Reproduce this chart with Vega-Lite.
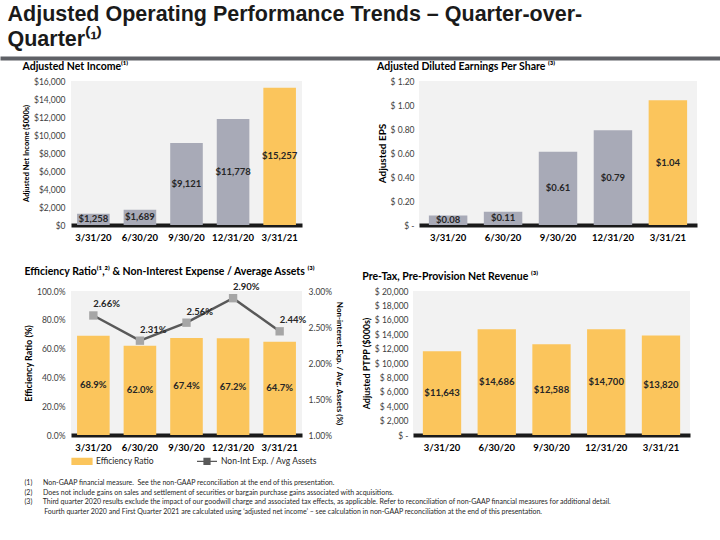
{
  "$schema": "https://vega.github.io/schema/vega-lite/v6.json",
  "background": "white",
  "padding": {"left": 0, "right": 0, "top": 4, "bottom": 0},
  "title": {
    "text": ["Adjusted Operating Performance Trends – Quarter-over-", "Quarter⁽¹⁾"],
    "anchor": "start",
    "font": "Liberation Sans",
    "fontSize": 21.5,
    "fontWeight": "bold",
    "color": "#1a1a1a",
    "lineHeight": 25,
    "offset": 6,
    "dx": 7
  },
  "config": {
    "view": {"stroke": null, "fill": "#f2f2f2"},
    "title": {"anchor": "start", "font": "Lato", "fontSize": 10.5, "fontWeight": "bold", "color": "#000000", "offset": 5},
    "axis": {"ticks": false, "domain": false, "grid": false, "labelFont": "Lato", "titleFont": "Lato", "labelColor": "#404040", "labelFontSize": 8.5, "titleFontWeight": "bold", "titleColor": "#000000", "titleFontSize": 8, "titlePadding": 3},
    "axisY": {"labelPadding": 6},
    "axisX": {"domain": true, "domainColor": "#1a1a1a", "domainWidth": 4, "labelFontWeight": "bold", "labelColor": "#000000", "labelFontSize": 9.5, "labelPadding": 7, "labelAngle": 0},
    "text": {"font": "Lato", "fontSize": 9.5, "fontWeight": "bold", "color": "#262626", "baseline": "middle"},
    "legend": {"labelFont": "Lato"}
  },
  "spacing": 0,
  "resolve": {"scale": {"color": "independent"}, "legend": {"color": "independent"}},
  "vconcat": [
    {
      "width": 720,
      "height": 1,
      "data": {"values": []},
      "mark": {"type": "rule"},
      "encoding": {},
      "view": {"fill": null, "stroke": "#5f6166", "strokeWidth": 3}
    },
    {
      "spacing": 0,
      "resolve": {"scale": {"color": "independent"}, "legend": {"color": "independent"}},
      "hconcat": [
        {
          "width": 20,
          "height": 1,
          "data": {"values": []},
          "mark": {"type": "rule"},
          "encoding": {},
          "view": {"fill": null, "stroke": null}
        },
        {
          "spacing": 24,
          "resolve": {"scale": {"color": "independent"}, "legend": {"color": "independent"}},
          "vconcat": [
            {
              "spacing": 75,
              "hconcat": [
                {
                  "title": {"text": "Adjusted Net Income⁽¹⁾"},
                  "width": 231,
                  "height": 144,
                  "data": {"values": [
                    {"q": "3/31/20", "v": 1258},
                    {"q": "6/30/20", "v": 1689},
                    {"q": "9/30/20", "v": 9121},
                    {"q": "12/31/20", "v": 11778},
                    {"q": "3/31/21", "v": 15257}
                  ]},
                  "encoding": {"x": {"field": "q", "type": "nominal", "sort": null, "title": null, "scale": {"paddingInner": 0.3, "paddingOuter": 0.13}}},
                  "layer": [
                    {
                      "mark": {"type": "bar"},
                      "encoding": {
                        "y": {"field": "v", "type": "quantitative", "scale": {"domain": [0, 16000], "nice": false}, "axis": {"values": [0, 2000, 4000, 6000, 8000, 10000, 12000, 14000, 16000], "format": "$,d", "title": "Adjusted Net Income ($000s)", "titleFontSize": 7.5}},
                        "color": {"condition": {"test": "datum.q === '3/31/21'", "value": "#fbc55c"}, "value": "#a8aab7"}
                      }
                    },
                    {
                      "mark": {"type": "text"},
                      "encoding": {
                        "y": {"field": "v", "type": "quantitative", "scale": {"domain": [0, 32000], "nice": false}, "axis": null},
                        "text": {"field": "v", "type": "quantitative", "format": "$,d"}
                      }
                    }
                  ],
                  "resolve": {"scale": {"y": "independent"}}
                },
                {
                  "title": {"text": "Adjusted Diluted Earnings Per Share ⁽³⁾"},
                  "width": 278,
                  "height": 144,
                  "data": {"values": [
                    {"q": "3/31/20", "v": 0.08},
                    {"q": "6/30/20", "v": 0.11},
                    {"q": "9/30/20", "v": 0.61},
                    {"q": "12/31/20", "v": 0.79},
                    {"q": "3/31/21", "v": 1.04}
                  ]},
                  "encoding": {"x": {"field": "q", "type": "nominal", "sort": null, "title": null, "scale": {"paddingInner": 0.3, "paddingOuter": 0.18}}},
                  "layer": [
                    {
                      "mark": {"type": "bar"},
                      "encoding": {
                        "y": {"field": "v", "type": "quantitative", "scale": {"domain": [0, 1.2], "nice": false}, "axis": {"values": [0, 0.2, 0.4, 0.6, 0.8, 1.0, 1.2], "labelExpr": "datum.value === 0 ? '$ -' : '$ ' + format(datum.value, '.2f')", "title": "Adjusted EPS", "titleFontSize": 10, "labelPadding": 5}},
                        "color": {"condition": {"test": "datum.q === '3/31/21'", "value": "#fbc55c"}, "value": "#a8aab7"}
                      }
                    },
                    {
                      "mark": {"type": "text"},
                      "encoding": {
                        "y": {"field": "v", "type": "quantitative", "scale": {"domain": [0, 2.4], "nice": false}, "axis": null},
                        "text": {"field": "v", "type": "quantitative", "format": "$.2f"}
                      }
                    }
                  ],
                  "resolve": {"scale": {"y": "independent"}}
                }
              ]
            },
            {
              "spacing": 19,
              "resolve": {"scale": {"color": "independent"}, "legend": {"color": "independent"}},
              "title": {
                "text": [
                  "(1)\u00a0\u00a0\u00a0\u00a0\u00a0\u00a0Non-GAAP financial measure.\u00a0\u00a0See the non-GAAP reconciliation at the end of this presentation.",
                  "(2)\u00a0\u00a0\u00a0\u00a0\u00a0\u00a0Does not include gains on sales and settlement of securities or bargain purchase gains associated with acquisitions.",
                  "(3)\u00a0\u00a0\u00a0\u00a0\u00a0\u00a0Third quarter 2020 results exclude the impact of our goodwill charge and associated tax effects, as applicable. Refer to reconciliation of non-GAAP financial measures for additional detail.",
                  "\u200b\u00a0\u00a0\u00a0\u00a0\u00a0\u00a0\u00a0\u00a0\u00a0\u00a0\u00a0Fourth quarter 2020 and First Quarter 2021 are calculated using ‘adjusted net income’ – see calculation in non-GAAP reconciliation at the end of this presentation."
                ],
                "orient": "bottom",
                "anchor": "start",
                "font": "Lato",
                "fontSize": 7,
                "fontWeight": "normal",
                "color": "#262626",
                "lineHeight": 9.5,
                "offset": 12
              },
              "hconcat": [
                {
                  "title": {"text": "Efficiency Ratio⁽¹,²⁾ & Non-Interest Expense / Average Assets ⁽³⁾"},
                  "width": 231,
                  "height": 144,
                  "data": {"values": [
                    {"q": "3/31/20", "eff": 0.689, "nie": 0.0266},
                    {"q": "6/30/20", "eff": 0.620, "nie": 0.0231},
                    {"q": "9/30/20", "eff": 0.674, "nie": 0.0256},
                    {"q": "12/31/20", "eff": 0.672, "nie": 0.0290},
                    {"q": "3/31/21", "eff": 0.647, "nie": 0.0244}
                  ]},
                  "encoding": {"x": {"field": "q", "type": "nominal", "sort": null, "title": null, "scale": {"paddingInner": 0.3, "paddingOuter": 0.13}}},
                  "layer": [
                    {
                      "mark": {"type": "bar"},
                      "encoding": {
                        "y": {"field": "eff", "type": "quantitative", "scale": {"domain": [0, 1], "nice": false}, "axis": {"orient": "left", "values": [0, 0.2, 0.4, 0.6, 0.8, 1.0], "format": ".1%", "title": "Efficiency Ratio (%)", "titleFontSize": 9}},
                        "color": {
                          "datum": "Efficiency Ratio",
                          "type": "nominal",
                          "scale": {"domain": ["Efficiency Ratio", "Non-Int Exp. / Avg Assets"], "range": ["#fbc55c", "#595959"]},
                          "legend": {
                            "orient": "bottom",
                            "direction": "horizontal",
                            "title": null,
                            "labelFontSize": 8.5,
                            "labelColor": "#262626",
                            "columnPadding": 40,
                            "symbolSize": 400,
                            "offset": -2,
                            "labelOffset": 3,
                            "encode": {
                              "symbols": {
                                "update": {
                                  "shape": {"signal": "datum.value === 'Efficiency Ratio' ? 'M-1,-0.3H1V0.3H-1Z' : 'M-1,0H-0.3M0.3,0H1M-0.3,-0.3H0.3V0.3H-0.3Z'"},
                                  "fill": {"signal": "datum.value === 'Efficiency Ratio' ? '#fbc55c' : '#a6a6a6'"},
                                  "stroke": {"signal": "datum.value === 'Efficiency Ratio' ? '#fbc55c' : '#6e6e6e'"},
                                  "strokeWidth": {"value": 1.2},
                                  "opacity": {"value": 1}
                                }
                              }
                            }
                          }
                        }
                      }
                    },
                    {
                      "mark": {"type": "text"},
                      "encoding": {
                        "y": {"field": "eff", "type": "quantitative", "scale": {"domain": [0, 2], "nice": false}, "axis": null},
                        "text": {"field": "eff", "type": "quantitative", "format": ".1%"}
                      }
                    },
                    {
                      "mark": {"type": "line", "strokeWidth": 2.5},
                      "encoding": {
                        "y": {"field": "nie", "type": "quantitative", "scale": {"domain": [0.01, 0.03], "nice": false, "zero": false}, "axis": {"orient": "right", "values": [0.01, 0.015, 0.02, 0.025, 0.03], "format": ".2%", "title": "Non-interest Exp. / Avg. Assets (%)", "titleFontSize": 8, "labelPadding": 6}},
                        "color": {"datum": "Non-Int Exp. / Avg Assets", "type": "nominal"}
                      }
                    },
                    {
                      "mark": {"type": "point", "shape": "square", "filled": true, "size": 70, "color": "#a6a6a6", "opacity": 1},
                      "encoding": {
                        "y": {"field": "nie", "type": "quantitative", "scale": {"domain": [0.01, 0.03], "nice": false, "zero": false}, "axis": null}
                      }
                    },
                    {
                      "mark": {"type": "text", "align": "left", "dx": 0, "dy": -11},
                      "encoding": {
                        "y": {"field": "nie", "type": "quantitative", "scale": {"domain": [0.01, 0.03], "nice": false, "zero": false}, "axis": null},
                        "text": {"field": "nie", "type": "quantitative", "format": ".2%"}
                      }
                    }
                  ],
                  "resolve": {"scale": {"y": "independent"}}
                },
                {
                  "title": {"text": "Pre-Tax, Pre-Provision Net Revenue ⁽³⁾"},
                  "width": 277,
                  "height": 144,
                  "data": {"values": [
                    {"q": "3/31/20", "v": 11643},
                    {"q": "6/30/20", "v": 14686},
                    {"q": "9/30/20", "v": 12588},
                    {"q": "12/31/20", "v": 14700},
                    {"q": "3/31/21", "v": 13820}
                  ]},
                  "encoding": {"x": {"field": "q", "type": "nominal", "sort": null, "title": null, "scale": {"paddingInner": 0.3, "paddingOuter": 0.18}}},
                  "layer": [
                    {
                      "mark": {"type": "bar", "color": "#fbc55c"},
                      "encoding": {
                        "y": {"field": "v", "type": "quantitative", "scale": {"domain": [0, 20000], "nice": false}, "axis": {"values": [0, 2000, 4000, 6000, 8000, 10000, 12000, 14000, 16000, 18000, 20000], "labelExpr": "datum.value === 0 ? '$ -' : '$ ' + format(datum.value, ',d')", "title": "Adjusted PTPP ($000s)", "titleFontSize": 9, "labelPadding": 5}}
                      }
                    },
                    {
                      "mark": {"type": "text"},
                      "encoding": {
                        "y": {"field": "v", "type": "quantitative", "scale": {"domain": [0, 40000], "nice": false}, "axis": null},
                        "text": {"field": "v", "type": "quantitative", "format": "$,d"}
                      }
                    }
                  ],
                  "resolve": {"scale": {"y": "independent"}}
                }
              ]
            }
          ]
        }
      ]
    }
  ]
}
